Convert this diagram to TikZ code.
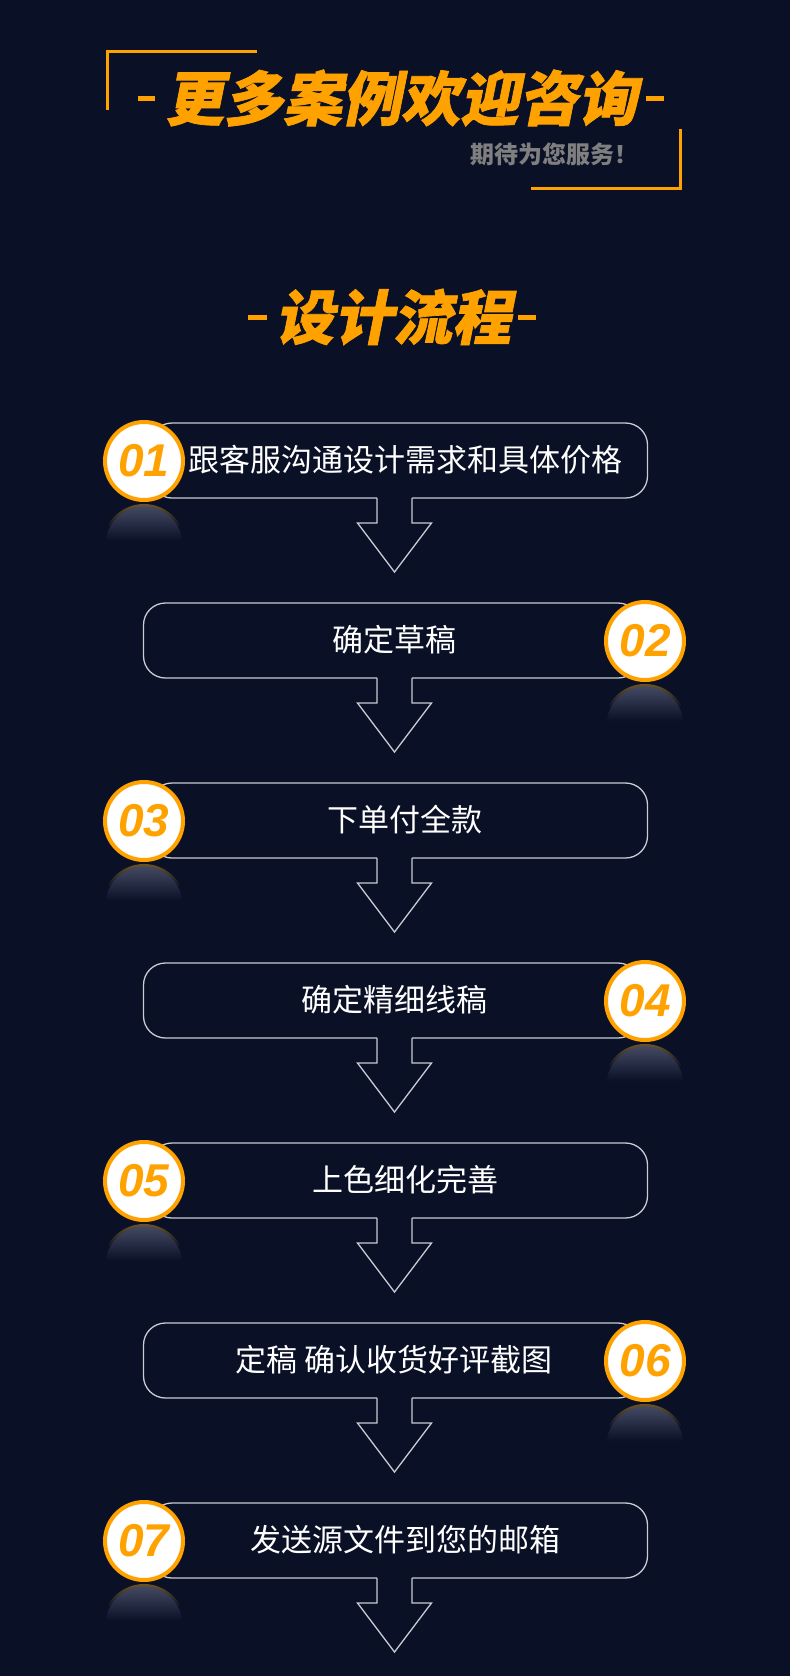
\documentclass[tikz,border=0pt]{standalone}
\usepackage{fontspec}
\newfontfamily\cjk{Noto Sans CJK SC}
\newfontfamily\cjkt[FakeSlant=0.2,FakeBold=1.2]{Noto Sans CJK SC}
\newfontfamily\numfont{Liberation Sans}
\definecolor{bg}{HTML}{0A1026}
\definecolor{org}{HTML}{FFA200}
\definecolor{lnc}{HTML}{C9CCD3}
\definecolor{refl}{HTML}{464D66}
\definecolor{rim}{HTML}{6E5628}
\definecolor{subg}{HTML}{7F7F7F}
\tikzset{
  bracket/.style={draw=org, line width=3pt},
  dashbar/.style={draw=org, line width=5pt},
  titletext/.style={text=org, inner sep=0pt, font=\cjkt\bfseries\fontsize{59}{59}\selectfont},
  boxline/.style={draw=lnc, line width=1.3pt},
  numcircle/.style={circle, draw=org, line width=4pt, fill=white, minimum size=78pt, inner sep=0pt,
     text=org, font=\numfont\bfseries\itshape\fontsize{46}{46}\selectfont},
  steptext/.style={text=white, inner sep=0pt, font=\cjk\fontsize{31}{31}\selectfont},
}
\begin{document}
\begin{tikzpicture}[x=1pt,y=-1pt]
\fill[bg] (0,0) rectangle (790,1676);
\useasboundingbox (0,0) rectangle (790,1676);
% header brackets
\draw[bracket] (107,110) -- (107,51) -- (257,51);
\draw[bracket] (531,188) -- (680.5,188) -- (680.5,129);
% header title
\node[titletext] (title) at (401,98) {更多案例欢迎咨询};
\coordinate (tdl1) at (138,98); \coordinate (tdl2) at (155,98);
\coordinate (tdr1) at (646,98); \coordinate (tdr2) at (664,98);
\draw[dashbar] (tdl1) -- (tdl2);
\draw[dashbar] (tdr1) -- (tdr2);
\node[text=subg, inner sep=0pt, anchor=east, font=\cjk\bfseries\fontsize{24}{24}\selectfont] (sub) at (639,154) {期待为您服务！};
% section title
\node[titletext] (sec) at (393,317) {设计流程};
\coordinate (sdl1) at (248,317); \coordinate (sdl2) at (267,317);
\coordinate (sdr1) at (518,317); \coordinate (sdr2) at (536,317);
\draw[dashbar] (sdl1) -- (sdl2);
\draw[dashbar] (sdr1) -- (sdr2);
% steps
\foreach \i/\n/\t/\s in {1/01/{跟客服沟通设计需求和具体价格}/0, 2/02/{确定草稿}/1, 3/03/{下单付全款}/0,
  4/04/{确定精细线稿}/1, 5/05/{上色细化完善}/0, 6/06/{定稿 确认收货好评截图}/1, 7/07/{发送源文件到您的邮箱}/0}{
  \pgfmathsetmacro\T{423+180*(\i-1)}
  \pgfmathsetmacro\L{150-6.5*\s}
  \pgfmathsetmacro\R{647.5-7.5*\s}
  \pgfmathsetmacro\cx{144+501*\s}
  \pgfmathsetmacro\tx{405-11*\s}
  \pgfmathsetmacro\cy{\T+38}
  % reflection
  \begin{scope}
    \clip (\cx,{\cy+84}) circle (41);
    \shade[top color=rim, bottom color=bg] ({\cx-45},{\cy+42}) rectangle ({\cx+45},{\cy+66});
    \clip (\cx,{\cy+84}) circle (38.5);
    \shade[top color=refl, bottom color=bg] ({\cx-42},{\cy+43}) rectangle ({\cx+42},{\cy+80});
  \end{scope}
  % box outline and arrow
  \coordinate (sl\i) at (377,{\T+75});
  \coordinate (sr\i) at (412,{\T+75});
  \coordinate (hl\i) at (377,{\T+100});
  \coordinate (hr\i) at (412,{\T+100});
  \coordinate (wl\i) at (357.5,{\T+100});
  \coordinate (wr\i) at (431.5,{\T+100});
  \coordinate (ap\i) at (394.5,{\T+149});
  \draw[boxline, rounded corners=22pt] (sr\i) -- (\R,{\T+75}) -- (\R,\T) -- (\L,\T) -- (\L,{\T+75}) -- (sl\i);
  \draw[boxline, line join=miter] (sl\i) -- (hl\i) -- (wl\i) -- (ap\i) -- (wr\i) -- (hr\i) -- (sr\i);
  \node[steptext] (t\i) at (\tx,{\T+37}) {\t};
  \node[numcircle] (c\i) at (\cx,\cy) {\n};
}
\end{tikzpicture}
\end{document}
